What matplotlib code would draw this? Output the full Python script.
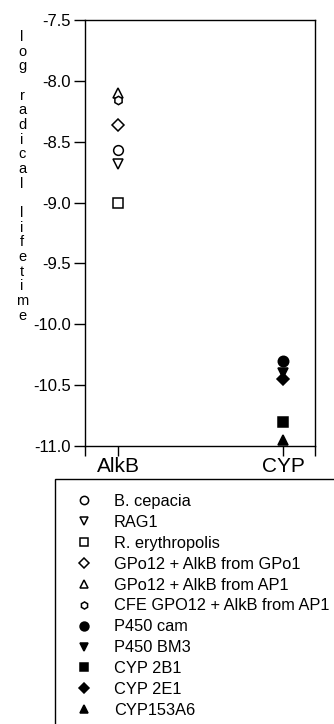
import matplotlib
matplotlib.use('Agg')
import matplotlib.pyplot as plt
from matplotlib.patches import Rectangle

plt.rcParams['font.family'] = ['Liberation Sans', 'DejaVu Sans']

# categorias e valores (log do tempo de vida do radical)
categorias = ['AlkB', 'CYP']
nomes = ['B. cepacia', 'RAG1', 'R. erythropolis', 'GPo12 + AlkB from GPo1',
         'GPo12 + AlkB from AP1', 'CFE GPO12 + AlkB from AP1',
         'P450 cam', 'P450 BM3', 'CYP 2B1', 'CYP 2E1', 'CYP153A6']
grupo = [0, 0, 0, 0, 0, 0, 1, 1, 1, 1, 1]
valores = [-8.57, -8.68, -9.0, -8.36, -8.1, -8.16,
           -10.3, -10.4, -10.8, -10.45, -10.95]
marcadores = ['o', 'v', 's', 'D', '^', 'h', 'o', 'v', 's', 'D', '^']
preenchido = [False] * 6 + [True] * 5
tamanhos = [7, 7, 6.5, 6.5, 7, 6, 7.5, 7.5, 6.5, 6.5, 7.5]

fig = plt.figure(figsize=(3.34, 7.24), dpi=100)
ax = fig.add_axes([85 / 334, 1 - 446 / 724, 230 / 334, 426 / 724])

for i in range(len(nomes)):
    fc = 'black' if preenchido[i] else 'white'
    ax.plot([grupo[i]], [valores[i]], linestyle='none', marker=marcadores[i],
            markersize=tamanhos[i], markerfacecolor=fc, markeredgecolor='black',
            markeredgewidth=1.1, label=nomes[i], clip_on=False, zorder=3)

ax.set_xlim(-0.2, 1.194)
ax.set_ylim(-11.0, -7.5)
ax.set_yticks([-7.5, -8.0, -8.5, -9.0, -9.5, -10.0, -10.5, -11.0])
ax.set_yticklabels(['-7.5', '-8.0', '-8.5', '-9.0', '-9.5', '-10.0', '-10.5', '-11.0'],
                   fontsize=12)
ax.set_xticks([-0.2, 0, 1, 1.194])
ax.set_xticklabels([''] + categorias + [''], fontsize=15)
ax.tick_params(axis='y', direction='out', length=8, width=1, pad=2)
ax.tick_params(axis='x', direction='out', length=7, width=1, pad=1)
for s in ax.spines.values():
    s.set_linewidth(1)

fig.text(22 / 334, 1 - 30 / 724, '\n'.join('log radical lifetime'),
         ha='center', va='top', fontsize=10.5, linespacing=1.06)

# legenda
caixa = Rectangle((55 / 334, -0.1), 1.0, 1 - 479 / 724 + 0.1,
                  transform=fig.transFigure, fill=False, edgecolor='black',
                  linewidth=1, clip_on=False)
fig.patches.append(caixa)
leg = fig.legend(loc='upper left', bbox_to_anchor=(76 / 334, 1 - 494 / 724),
                 frameon=False, fontsize=11.8, handletextpad=1.3,
                 handlelength=1.0, labelspacing=0.36, borderaxespad=0,
                 borderpad=0, markerscale=0.85)

plt.savefig('out.png', dpi=100)
